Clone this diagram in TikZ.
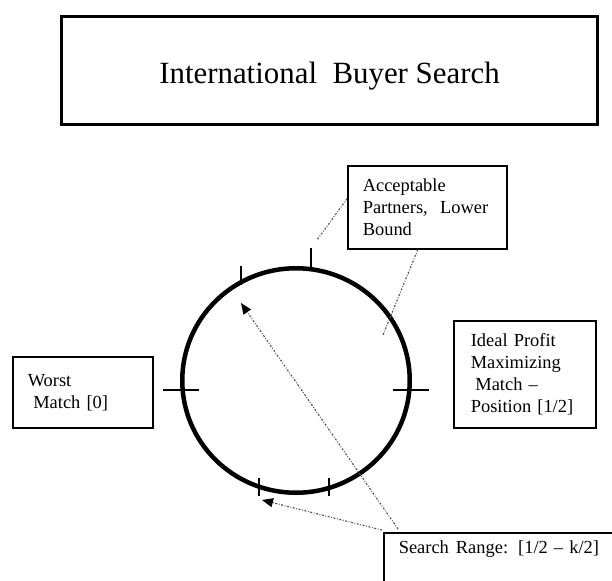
\documentclass[tikz,border=0pt]{standalone}
\usepackage{fontspec}
\setmainfont{Liberation Serif}
\usetikzlibrary{arrows.meta}

\tikzset{
  box/.style={draw, rectangle, line width=1.6bp, inner ysep=0pt, align=left,
              font=\fontsize{18.5}{22}\selectfont},
  titlebox/.style={draw, rectangle, line width=3bp, inner sep=0pt,
              font=\fontsize{31}{36}\selectfont},
  lead/.style={black!70, line width=1.1bp,
              dash pattern=on 2bp off 1.6bp on 0.8bp off 1.6bp},
  pointer/.style={lead, -{Triangle[length=11bp,width=9bp,color=black]}},
  tickmark/.style={line width=1.6bp, black},
  ring/.style={line width=4.5bp, black}
}

\begin{document}
\begin{tikzpicture}[x=1bp, y=-1bp]
  \useasboundingbox (0,0) rectangle (612,581);
  \clip (0,0) rectangle (612,581);

  % heading
  \node[titlebox, minimum width=535bp, minimum height=108bp,
        text height=26bp, text depth=0bp] (title) at (329.5,71)
        {International\ \ Buyer Search};

  % the circle of possible partners
  \coordinate (hub) at (296,380.5);
  \draw[ring] (hub) ellipse [x radius=113.75, y radius=112.25];

  % tick marks on the circle
  \draw[tickmark] (163,390) -- (199,390);
  \draw[tickmark] (393,390) -- (429,390);
  \draw[tickmark] (311,248) -- (311,268);
  \draw[tickmark] (241,266) -- (241,285);
  \draw[tickmark] (259,478) -- (259,496);
  \draw[tickmark] (329,478) -- (329,496);

  % labels
  \node[box, anchor=north west, minimum width=159bp, minimum height=83bp,
        inner xsep=15bp, text width=129bp] (acc) at (347,165)
        {Acceptable\\Partners,\ \ Lower\\Bound};
  \node[box, anchor=north west, minimum width=140bp, minimum height=71bp,
        inner xsep=15bp, text width=110bp] (worst) at (12,356)
        {Worst\\\hspace*{0.3em}Match [0]};
  \node[box, anchor=north west, minimum width=142bp, minimum height=107bp,
        inner xsep=17bp, text width=108bp] (ideal) at (453,320)
        {Ideal Profit\\Maximizing\\\hspace*{0.25em}Match –\\Position~[1/2]};
  \node[box, anchor=north west, minimum width=260bp, inner xsep=15bp,
        text width=230bp, inner ysep=6bp, text height=15bp, text depth=45bp]
        (range) at (383,532)
        {Search\hspace{7bp}Range:\hspace{10bp}[1/2 – k/2]};

  % leader lines
  \coordinate (accend1) at (317,240);
  \coordinate (accend2) at (383,335);
  \coordinate (tipup) at (241,303);
  \coordinate (tipdown) at (262,500);
  \draw[lead] ([yshift=8.5bp]acc.west) -- (accend1);
  \draw[lead] ([xshift=-9.5bp]acc.south) -- (accend2);
  \draw[pointer] ([xshift=15bp,yshift=3bp]range.north west) -- (tipup);
  \draw[pointer] ([xshift=-1bp,yshift=2bp]range.north west) -- (tipdown);
\end{tikzpicture}
\end{document}
